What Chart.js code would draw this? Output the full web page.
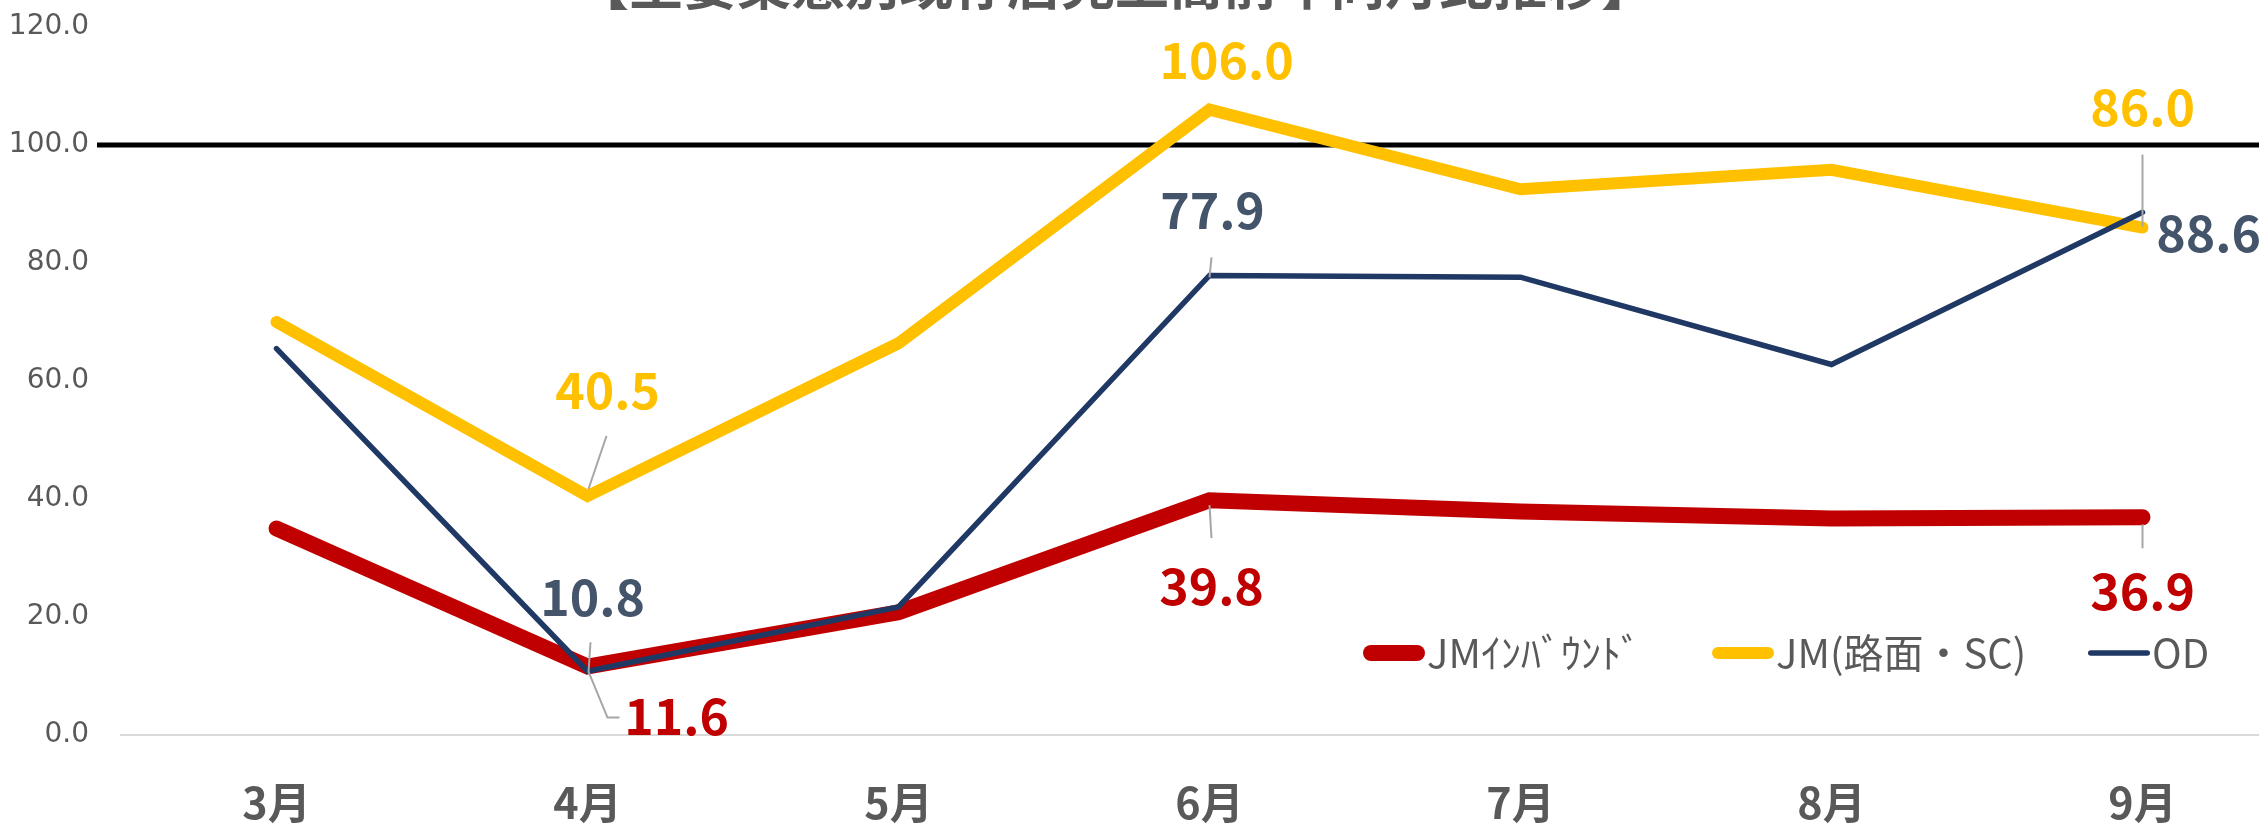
<!DOCTYPE html>
<html>
<head>
<meta charset="utf-8">
<script src="https://cdn.jsdelivr.net/npm/chart.js@4.4.0/dist/chart.umd.min.js"></script>
<style>
  html, body { margin: 0; padding: 0; background: #fff; overflow: hidden; width: 2259px; height: 828px; }
  #wrap { position: absolute; left: 0; top: -80px; width: 2320px; height: 908px; }
</style>
</head>
<body>
<div id="wrap"><canvas id="c" width="2320" height="908"></canvas></div>
<script>
// 既存店売上高 前年同月比 (%)
const months = ['3月', '4月', '5月', '6月', '7月', '8月', '9月'];
const inbound = [35.0, 11.6, 20.8, 39.8, 37.9, 36.7, 36.9];
const roadside = [70.0, 40.5, 66.4, 106.0, 92.5, 95.8, 86.0];
const od = [65.5, 10.8, 21.7, 77.9, 77.6, 62.8, 88.6];
const seriesNames = ['JMｲﾝﾊﾞｳﾝﾄﾞ', 'JM(路面・SC)', 'OD'];
const baseline = 100;
const chartTitle = '【主要業態別既存店売上高前年同月比推移】';

const GRAY = '#595959';
const CJK = "'Noto Sans CJK JP', 'Noto Sans', sans-serif";

// label placement per series: point index -> offset of label centre, optional leader line
const labelLayout = [
    { 1: { dx: 89, dy: 50, leader: [[1, 5], [20, 51], [32, 51]] },
      3: { dx: 2, dy: 87, leader: [[0, 5], [2, 38]] },
      6: { dx: 0, dy: 75, leader: [[0, 7], [0, 31]] } },
    { 1: { dx: 20, dy: -105, leader: [[1, -7], [19, -60]] },
      3: { dx: 17, dy: -49 },
      6: { dx: 0, dy: -120, leader: [[0, -73], [0, -1]] } },
    { 1: { dx: 5, dy: -73, leader: [[3, -29], [1, 1]] },
      3: { dx: 3, dy: -64, leader: [[2, -18], [0, 2]] },
      6: { dx: 66, dy: 22 } },
];
const labelColors = ['#C00000', '#FFC000', '#44546A'];
const legendX = [1363, 1712, 2088];
const legendY = 733;   // canvas coords

const extras = {
    id: 'extras',
    beforeDatasetsDraw(chart) {
        const { ctx, scales: { y } } = chart;
        const py = y.getPixelForValue(baseline);
        ctx.save();
        ctx.strokeStyle = '#000';
        ctx.lineWidth = 5;
        ctx.beginPath();
        ctx.moveTo(97, py);
        ctx.lineTo(chart.width, py);
        ctx.stroke();
        ctx.restore();
    },
    afterDraw(chart) {
        const { ctx } = chart;
        ctx.save();
        // title (mostly cut off at the top)
        ctx.fillStyle = GRAY;
        ctx.font = `bold 54px ${CJK}`;
        ctx.textAlign = 'center';
        ctx.textBaseline = 'ideographic';
        ctx.fillText(chartTitle, 1115, 91);

        // data labels
        chart.data.datasets.forEach((ds, i) => {
            const meta = chart.getDatasetMeta(i);
            Object.entries(labelLayout[i]).forEach(([idx, l]) => {
                const pt = meta.data[idx];
                if (l.leader) {
                    ctx.strokeStyle = '#A6A6A6';
                    ctx.lineWidth = 2;
                    ctx.beginPath();
                    l.leader.forEach(([ox, oy], k) => {
                        if (k === 0) ctx.moveTo(pt.x + ox, pt.y + oy);
                        else ctx.lineTo(pt.x + ox, pt.y + oy);
                    });
                    ctx.stroke();
                }
                ctx.fillStyle = labelColors[i];
                ctx.font = `bold 50px ${CJK}`;
                ctx.textAlign = 'center';
                ctx.textBaseline = 'alphabetic';
                ctx.fillText(ds.data[idx].toFixed(1), pt.x + l.dx, pt.y + l.dy + 18);
            });
        });

        // legend
        chart.data.datasets.forEach((ds, i) => {
            const w = ds.borderWidth;
            const x0 = legendX[i];
            ctx.strokeStyle = ds.borderColor;
            ctx.lineWidth = w;
            ctx.lineCap = 'round';
            ctx.beginPath();
            ctx.moveTo(x0 + w / 2, legendY);
            ctx.lineTo(x0 + 62 - w / 2, legendY);
            ctx.stroke();
            ctx.fillStyle = GRAY;
            ctx.font = `40px ${CJK}`;
            ctx.textAlign = 'left';
            ctx.textBaseline = 'alphabetic';
            ctx.fillText(ds.label, x0 + 64, legendY + 15);
        });
        ctx.restore();
    },
};

const lineStyle = (color, width, order) => ({
    borderColor: color,
    backgroundColor: color,
    borderWidth: width,
    borderCapStyle: 'round',
    borderJoinStyle: 'miter',
    pointRadius: 0,
    tension: 0,
    fill: false,
    order,
});

new Chart(document.getElementById('c'), {
    type: 'line',
    data: {
        labels: months,
        datasets: [
            { label: seriesNames[0], data: inbound, ...lineStyle('#C00000', 16, 3) },
            { label: seriesNames[1], data: roadside, ...lineStyle('#FFC000', 12, 2) },
            { label: seriesNames[2], data: od, ...lineStyle('#203864', 5.5, 1) },
        ],
    },
    options: {
        responsive: false,
        animation: false,
        devicePixelRatio: 1,
        layout: { padding: { top: 107, right: 22, bottom: 0, left: 0 } },
        plugins: {
            legend: { display: false },
            title: { display: false },
            tooltip: { enabled: false },
        },
        scales: {
            x: {
                offset: true,
                afterFit: (s) => { s.height = 93; },
                ticks: {
                    color: GRAY,
                    font: { family: CJK, size: 43, weight: 'bold' },
                    padding: 42,
                    maxRotation: 0,
                },
                grid: { display: false, drawTicks: false },
                border: { color: '#D9D9D9', width: 2 },
            },
            y: {
                min: 0,
                max: 120,
                afterFit: (s) => { s.width = 121; },
                ticks: {
                    stepSize: 20,
                    color: GRAY,
                    font: { family: "'DejaVu Sans', sans-serif", size: 28 },
                    padding: 32,
                    callback: (v) => v.toFixed(1),
                },
                grid: { display: false, drawTicks: false },
                border: { display: false },
            },
        },
    },
    plugins: [extras],
});
</script>
</body>
</html>
